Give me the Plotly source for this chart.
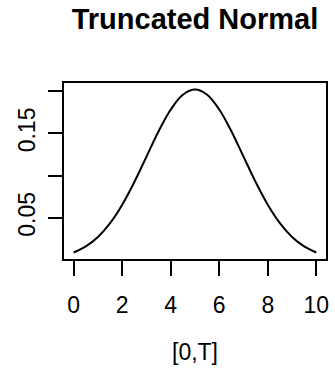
import plotly.graph_objects as go

# Density values (x in [0, 10])
x_vals = [0, 0.5, 1, 1.5, 2, 2.5, 3, 3.5, 4, 4.5, 5,
          5.5, 6, 6.5, 7, 7.5, 8, 8.5, 9, 9.5, 10]
density = [0.0089, 0.0161, 0.0273, 0.0437, 0.0656, 0.0925, 0.1225, 0.1525, 0.1783, 0.1958, 0.2020,
           0.1958, 0.1783, 0.1525, 0.1225, 0.0925, 0.0656, 0.0437, 0.0273, 0.0161, 0.0089]

x_ticks = [0, 2, 4, 6, 8, 10]
y_ticks = [0.05, 0.10, 0.15, 0.20]
y_ticktext = ["0.05", "", "0.15", ""]

title_text = "<b>Truncated Normal</b>"
x_title = "[0,T]"

FONT = "Liberation Sans, Arial, Helvetica, sans-serif"

fig = go.Figure()
fig.add_trace(go.Scatter(
    x=x_vals, y=density, mode="lines",
    line=dict(color="black", width=2, shape="spline", smoothing=1.0),
    hoverinfo="skip", showlegend=False,
))

fig.update_layout(
    width=335, height=382,
    margin=dict(l=64, r=6, t=83, b=123),
    paper_bgcolor="white", plot_bgcolor="white",
    font=dict(family=FONT, color="black", size=23),
    title=dict(text=title_text, x=0.5, xref="paper", xanchor="center",
               y=1 - 19 / 382, yref="container", yanchor="middle",
               font=dict(family=FONT, size=29, color="black")),
    xaxis=dict(range=[-0.4, 10.4], tickvals=x_ticks, ticks="outside",
               ticklen=15, tickwidth=2, tickcolor="black",
               showline=True, linecolor="black", linewidth=2, mirror=True,
               showgrid=False, zeroline=False, ticklabelstandoff=9,
               tickfont=dict(size=23)),
    yaxis=dict(range=[0.0012, 0.2097], tickvals=y_ticks, ticktext=y_ticktext,
               ticks="outside", ticklen=14, tickwidth=2, tickcolor="black",
               showline=True, linecolor="black", linewidth=2, mirror=True,
               showgrid=False, zeroline=False, tickangle=-90,
               ticklabelstandoff=4, tickfont=dict(size=23)),
    annotations=[dict(text=x_title, x=0.5, xref="paper", xanchor="center",
                      y=-(352 - 259) / 176, yref="paper", yanchor="middle",
                      showarrow=False, font=dict(family=FONT, size=23, color="black"))],
)

fig.write_html("out.html")
